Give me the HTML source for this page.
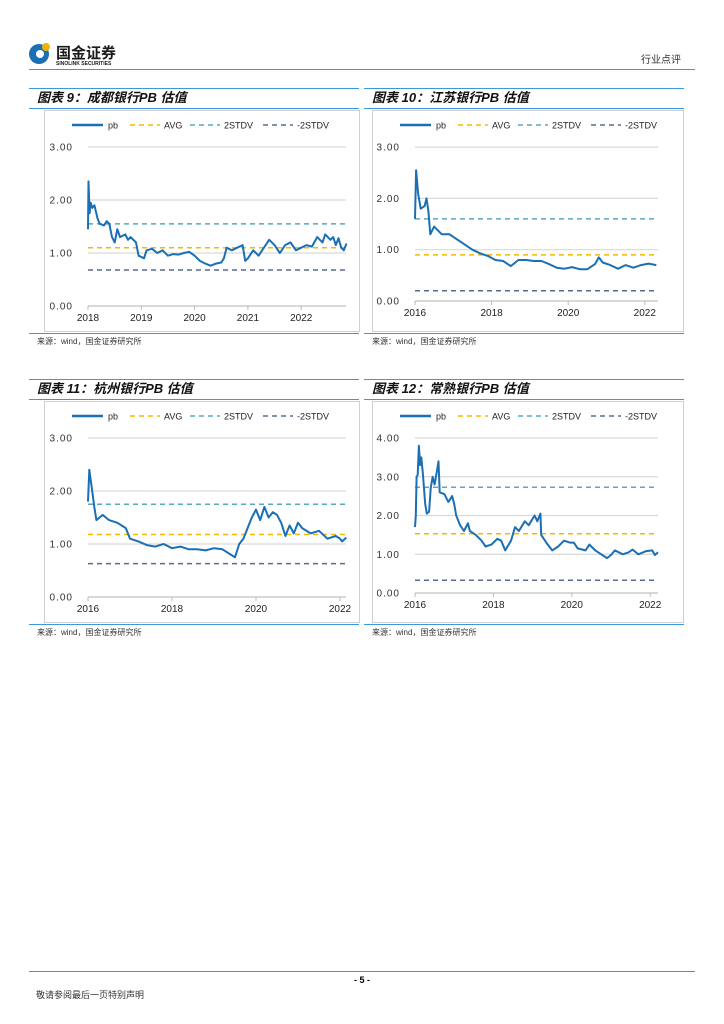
<!DOCTYPE html>
<html><head><meta charset="utf-8"><style>
body{margin:0;width:724px;height:1024px;background:#fff;position:relative;overflow:hidden;font-family:"Liberation Sans","Noto Sans CJK SC",sans-serif}
svg{position:absolute;left:0;top:0}
</style></head><body>
<svg id="page" width="724" height="1024" font-family="Liberation Sans, Noto Sans CJK SC, sans-serif">
  <g>
    <circle cx="39" cy="54" r="10" fill="#1a6fb5"/>
    <circle cx="40" cy="54" r="4" fill="#fff"/>
    <circle cx="46" cy="47" r="4" fill="#f0b400"/>
    <text x="56" y="58" font-size="15" font-weight="bold" fill="#1a1a1a">国金证券</text>
    <text x="56" y="65" font-size="5" font-weight="bold" fill="#1a1a1a">SINOLINK SECURITIES</text>
    <text x="641" y="63" font-size="10" fill="#333">行业点评</text>
    <line x1="29" y1="69.5" x2="695" y2="69.5" stroke="#3a9ad9" stroke-width="1"/>
  </g>
  <g id="charts"></g>
  <g>
    <line x1="29" y1="971.5" x2="695" y2="971.5" stroke="#3a9ad9" stroke-width="1"/>
    <text x="362" y="983" font-size="9" font-weight="bold" text-anchor="middle">- 5 -</text>
    <text x="36" y="998" font-size="9" fill="#333">敬请参阅最后一页特别声明</text>
  </g>
</svg>
<script>
const c9Times=[2018.0,2018.01,2018.03,2018.05,2018.08,2018.12,2018.18,2018.22,2018.3,2018.35,2018.4,2018.45,2018.5,2018.55,2018.6,2018.7,2018.75,2018.8,2018.9,2018.95,2019.05,2019.1,2019.2,2019.3,2019.4,2019.5,2019.6,2019.7,2019.8,2019.9,2020.0,2020.1,2020.2,2020.3,2020.4,2020.5,2020.55,2020.6,2020.7,2020.8,2020.9,2020.95,2021.0,2021.1,2021.2,2021.3,2021.4,2021.5,2021.6,2021.7,2021.8,2021.9,2022.0,2022.1,2022.2,2022.3,2022.4,2022.45,2022.55,2022.6,2022.65,2022.7,2022.75,2022.8,2022.85];
const c9Values=[1.45,2.35,1.75,1.95,1.85,1.9,1.65,1.55,1.52,1.6,1.55,1.3,1.2,1.45,1.3,1.35,1.25,1.3,1.2,0.95,0.9,1.05,1.08,1.0,1.05,0.95,0.98,0.97,1.0,1.02,0.95,0.85,0.8,0.76,0.8,0.82,0.9,1.1,1.05,1.1,1.15,0.85,0.9,1.05,0.95,1.1,1.25,1.15,1.0,1.15,1.2,1.05,1.1,1.15,1.12,1.3,1.2,1.35,1.25,1.3,1.15,1.28,1.1,1.05,1.18];
const c9Lines=[1.10,1.55,0.68];
const c10Times=[2016.0,2016.03,2016.08,2016.15,2016.25,2016.3,2016.35,2016.4,2016.5,2016.7,2016.9,2017.1,2017.3,2017.5,2017.7,2017.9,2018.1,2018.3,2018.5,2018.7,2018.9,2019.1,2019.3,2019.5,2019.7,2019.9,2020.1,2020.3,2020.5,2020.7,2020.8,2020.9,2021.1,2021.3,2021.5,2021.7,2021.9,2022.1,2022.3];
const c10Values=[1.6,2.55,2.1,1.8,1.85,2.0,1.75,1.3,1.45,1.3,1.3,1.2,1.1,1.0,0.93,0.88,0.8,0.78,0.68,0.8,0.8,0.78,0.78,0.72,0.65,0.63,0.66,0.62,0.62,0.72,0.85,0.75,0.7,0.63,0.7,0.65,0.7,0.73,0.7];
const c10Lines=[0.90,1.60,0.20];
const c11Times=[2016.0,2016.03,2016.1,2016.15,2016.2,2016.35,2016.5,2016.7,2016.9,2017.0,2017.2,2017.4,2017.6,2017.8,2018.0,2018.2,2018.4,2018.6,2018.8,2019.0,2019.2,2019.4,2019.5,2019.6,2019.7,2019.8,2019.9,2020.0,2020.1,2020.2,2020.3,2020.4,2020.5,2020.6,2020.7,2020.8,2020.9,2021.0,2021.1,2021.3,2021.5,2021.7,2021.9,2022.0,2022.05,2022.15];
const c11Values=[1.8,2.4,2.0,1.7,1.45,1.55,1.45,1.4,1.3,1.1,1.05,0.98,0.95,1.0,0.92,0.95,0.9,0.9,0.88,0.92,0.9,0.8,0.75,1.0,1.1,1.3,1.5,1.65,1.45,1.7,1.5,1.6,1.55,1.4,1.15,1.35,1.2,1.4,1.3,1.2,1.25,1.1,1.15,1.1,1.05,1.12];
const c11Lines=[1.18,1.75,0.63];
const c12Times=[2016.0,2016.02,2016.04,2016.07,2016.1,2016.13,2016.16,2016.2,2016.26,2016.3,2016.36,2016.4,2016.45,2016.5,2016.55,2016.6,2016.63,2016.75,2016.85,2016.95,2017.0,2017.05,2017.15,2017.25,2017.35,2017.4,2017.55,2017.7,2017.8,2017.95,2018.1,2018.2,2018.3,2018.45,2018.55,2018.65,2018.8,2018.9,2019.05,2019.12,2019.2,2019.22,2019.35,2019.5,2019.65,2019.8,2019.95,2020.05,2020.15,2020.35,2020.45,2020.6,2020.75,2020.9,2021.0,2021.1,2021.3,2021.45,2021.55,2021.7,2021.9,2022.05,2022.12,2022.2];
const c12Values=[1.7,2.0,3.0,3.05,3.8,3.3,3.5,3.1,2.3,2.05,2.1,2.7,3.0,2.8,3.1,3.4,2.6,2.55,2.35,2.5,2.3,2.0,1.75,1.6,1.8,1.6,1.5,1.35,1.2,1.25,1.4,1.35,1.1,1.35,1.7,1.6,1.85,1.75,2.0,1.85,2.05,1.5,1.3,1.1,1.2,1.35,1.3,1.3,1.15,1.1,1.25,1.1,1.0,0.9,0.98,1.1,1.0,1.05,1.12,1.0,1.08,1.1,0.98,1.05];
const c12Lines=[1.53,2.73,0.33];
const yTicks3=["0.00","1.00","2.00","3.00"];
const yTicks4=["0.00","1.00","2.00","3.00","4.00"];
const xTicks9=[2018,2019,2020,2021,2022];
const xTicks16=[2016,2018,2020,2022];
const legendNames=["pb","AVG","2STDV","-2STDV"];

const NS="http://www.w3.org/2000/svg";
const root=document.getElementById('charts');
function mk(tag,attrs,parent){const e=document.createElementNS(NS,tag);for(const k in attrs)e.setAttribute(k,attrs[k]);parent.appendChild(e);return e;}
const lineColors=["#f5b800","#5aa8c0","#5a6a90"];

function drawChart(o){
  const g=mk('g',{},root);
  
  
  mk('line',{x1:o.sx,y1:o.top+0.5,x2:o.sx+o.sw,y2:o.top+0.5,stroke:'#3a9ad9'},g);
  const t=mk('text',{x:o.sx+8,y:o.top+14,'font-size':13,'font-weight':'bold','font-style':'italic',fill:'#111'},g);
  t.textContent=o.title;
  
  
  mk('line',{x1:o.sx,y1:o.top+20.5,x2:o.sx+o.sw,y2:o.top+20.5,stroke:'#3a9ad9'},g);
  mk('rect',{x:o.bx+0.5,y:o.top+22.5,width:o.bw,height:o.bh,fill:'none',stroke:'#d0d0d0'},g);
  mk('line',{x1:o.sx,y1:o.top+o.bh+24.5,x2:o.sx+o.sw,y2:o.top+o.bh+24.5,stroke:'#3a9ad9'},g);
  const src=mk('text',{x:o.sx+8,y:o.top+o.bh+35,'font-size':8,fill:'#333'},g);
  src.textContent='来源：wind，国金证券研究所';
  
  
  const X=v=>o.x0+(v-o.t0)*o.pxYear;
  const Y=v=>o.yZero-v*o.pxUnit;
  o.yTicks.forEach(s=>{const v=parseFloat(s);
    mk('line',{x1:o.x0,y1:Y(v),x2:o.xEnd,y2:Y(v),stroke:'#d9d9d9','stroke-width':1.2},g);
    const tx=mk('text',{x:o.x0-15,y:Y(v)+3.5,'font-size':10,fill:'#333','text-anchor':'end','letter-spacing':'1'},g);
    tx.textContent=s;
    
    
  });
  mk('line',{x1:o.x0,y1:o.yZero,x2:o.xEnd,y2:o.yZero,stroke:'#bbb'},g);
  o.xTicks.forEach(v=>{
    mk('line',{x1:X(v),y1:o.yZero,x2:X(v),y2:o.yZero+4,stroke:'#bbb'},g);
    const tx=mk('text',{x:X(v),y:o.yZero+15,'font-size':10,fill:'#222','text-anchor':'middle'},g);
    tx.textContent=v;
    
    
  });
  o.lines.forEach((v,i)=>{
    const l=mk('line',{x1:o.x0,y1:Y(v),x2:o.xEnd,y2:Y(v),stroke:lineColors[i],'stroke-width':1.5,'stroke-dasharray':'5,4'},g);
    
    
  });
  const d=o.times.map((tv,i)=>(i?'L':'M')+X(tv).toFixed(1)+','+Y(o.values[i]).toFixed(1)).join('');
  const p=mk('path',{d:d,fill:'none',stroke:'#1a6fb5','stroke-width':2,'stroke-linejoin':'round'},g);
  
  
  const ly=o.top+37, lx=o.bx+28;
  const offs=[0,58,118,191];
  legendNames.forEach((n,i)=>{
    const x=lx+offs[i];
    const le=mk('g',{},g);
    
    
    if(i===0) mk('line',{x1:x,y1:ly,x2:x+31,y2:ly,stroke:'#1a6fb5','stroke-width':2.5},le);
    else mk('line',{x1:x,y1:ly,x2:x+30,y2:ly,stroke:lineColors[i-1],'stroke-width':1.5,'stroke-dasharray':'5,4'},le);
    const tx=mk('text',{x:x+(i===0?36:34),y:ly+3.5,'font-size':9,fill:'#222'},le);
    tx.textContent=n;
  });
}
drawChart({name:'chart-chengdu-bank-pb',title:'图表 9：成都银行PB 估值',sx:29,sw:330,bx:44,bw:315,bh:221,top:88,
  x0:88,t0:2018,pxYear:53.3,xEnd:346,yZero:306,pxUnit:53,times:c9Times,values:c9Values,lines:c9Lines,yTicks:yTicks3,xTicks:xTicks9});
drawChart({name:'chart-jiangsu-bank-pb',title:'图表 10：江苏银行PB 估值',sx:364,sw:320,bx:372,bw:311,bh:221,top:88,
  x0:415,t0:2016,pxYear:38.3,xEnd:658,yZero:301,pxUnit:51.3,times:c10Times,values:c10Values,lines:c10Lines,yTicks:yTicks3,xTicks:xTicks16});
drawChart({name:'chart-hangzhou-bank-pb',title:'图表 11：杭州银行PB 估值',sx:29,sw:330,bx:44,bw:315,bh:221,top:379,
  x0:88,t0:2016,pxYear:42,xEnd:346,yZero:597,pxUnit:53,times:c11Times,values:c11Values,lines:c11Lines,yTicks:yTicks3,xTicks:xTicks16});
drawChart({name:'chart-changshu-bank-pb',title:'图表 12：常熟银行PB 估值',sx:364,sw:320,bx:372,bw:311,bh:221,top:379,
  x0:415,t0:2016,pxYear:39.2,xEnd:658,yZero:593,pxUnit:38.75,times:c12Times,values:c12Values,lines:c12Lines,yTicks:yTicks4,xTicks:xTicks16});
</script>
</body></html>
